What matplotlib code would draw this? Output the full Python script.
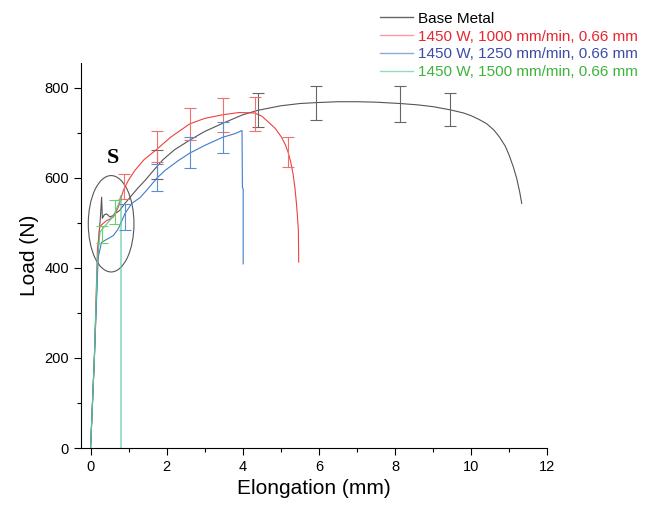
import matplotlib
matplotlib.use('Agg')
import matplotlib.pyplot as plt
from matplotlib.patches import Ellipse
from matplotlib.lines import Line2D
from matplotlib.ticker import MultipleLocator

plt.rcParams['font.family'] = ['Liberation Sans', 'DejaVu Sans']

# Base metal curve
base_x = [0, 0.1, 0.18, 0.22, 0.26, 0.29, 0.31, 0.36, 0.42, 0.51, 0.58, 0.64, 0.77, 0.9,
          1.08, 1.25, 1.43, 1.65, 1.9, 2.2, 2.61, 3.0, 3.47, 4.0, 4.4, 5.0, 5.5, 5.92,
          6.5, 7.0, 7.5, 8.14, 8.6, 9.0, 9.45, 9.8, 10.0, 10.2, 10.41, 10.6, 10.75, 10.9,
          11.0, 11.11, 11.2, 11.28, 11.33]
base_y = [0, 200, 400, 470, 515, 557, 510, 518, 520, 513, 516, 520, 528, 543,
          561, 578, 594, 616, 640, 662, 684, 703, 721, 740, 750, 760, 765, 767,
          769, 769, 768, 765, 762, 758, 751, 744, 738, 730, 720, 706, 690, 670,
          650, 624, 598, 567, 543]

# 1450 W, 1000 mm/min
red_x = [0, 0.1, 0.18, 0.24, 0.32, 0.42, 0.5, 0.6, 0.73, 0.86, 0.99, 1.16, 1.4, 1.75,
         2.1, 2.61, 3.0, 3.47, 3.9, 4.31, 4.5, 4.67, 4.85, 5.02, 5.12, 5.19, 5.26,
         5.32, 5.37, 5.41, 5.44, 5.46, 5.47]
red_y = [0, 200, 440, 491, 498, 505, 508, 513, 535, 572, 594, 616, 640, 664,
         690, 720, 732, 740, 745, 744, 737, 724, 710, 690, 673, 657, 635,
         609, 578, 543, 510, 483, 413]

# 1450 W, 1250 mm/min
blue_x = [0, 0.1, 0.2, 0.29, 0.46, 0.6, 0.73, 0.9, 1.08, 1.3, 1.5, 1.75, 1.95, 2.3,
          2.61, 3.0, 3.47, 3.79, 3.98, 3.99, 4.01, 4.01]
blue_y = [0, 200, 424, 457, 465, 472, 487, 520, 543, 556, 575, 600, 616, 638,
          655, 672, 690, 698, 705, 579, 575, 409]

# 1450 W, 1500 mm/min
green_x = [0, 0.1, 0.18, 0.25, 0.4, 0.55, 0.65, 0.75, 0.79, 0.8, 0.8]
green_y = [0, 200, 420, 480, 495, 510, 525, 545, 560, 560, 0]

# error bars (x, centre, half width)
base_err_x = [1.75, 4.4, 5.92, 8.14, 9.45]
base_err_y = [630, 750, 767, 765, 751]
base_err = [32, 38, 38, 40, 37]

red_err_x = [0.875, 1.75, 2.61, 3.47, 4.33, 5.19]
red_err_y = [580, 669, 720, 740, 742, 658]
red_err = [28, 34, 35, 38, 38, 33]

blue_err_x = [0.9, 1.75, 2.61, 3.47]
blue_err_y = [514, 601, 656, 690]
blue_err = [29, 30, 34, 35]

green_err_x = [0.29, 0.64]
green_err_y = [475, 524]
green_err = [19, 26]

labels = ['Base Metal', '1450 W, 1000 mm/min, 0.66 mm',
          '1450 W, 1250 mm/min, 0.66 mm', '1450 W, 1500 mm/min, 0.66 mm']

fig = plt.figure(figsize=(6.48, 5.08), dpi=100)
ax = fig.add_axes([0.1245, 0.118, 0.72, 0.758])

ax.plot(base_x, base_y, color='#555555', lw=0.8)
ax.plot(red_x, red_y, color='#f04040', lw=0.8)
ax.plot(blue_x, blue_y, color='#3f7ccc', lw=0.8)
ax.plot(green_x, green_y, color='#55c795', lw=0.8)

ax.errorbar(base_err_x, base_err_y, yerr=base_err, fmt='none', ecolor='#666666',
            elinewidth=0.8, capsize=4, capthick=0.8)
ax.errorbar(red_err_x, red_err_y, yerr=red_err, fmt='none', ecolor='#f07070',
            elinewidth=0.8, capsize=4, capthick=0.8)
ax.errorbar(blue_err_x, blue_err_y, yerr=blue_err, fmt='none', ecolor='#5a8ed0',
            elinewidth=0.8, capsize=4, capthick=0.8)
ax.errorbar(green_err_x, green_err_y, yerr=green_err, fmt='none', ecolor='#6ad06a',
            elinewidth=0.8, capsize=4, capthick=0.8)

# "S" marked region
ax.add_patch(Ellipse((0.54, 498), 1.2, 214, fill=False, edgecolor='#555555', lw=0.8))
ax.text(0.6, 643, 'S', fontsize=16, fontweight='bold', family='Liberation Serif',
        ha='center', va='center')

ax.set_xlim(-0.26, 12)
ax.set_ylim(0, 855)
ax.xaxis.set_major_locator(MultipleLocator(2))
ax.xaxis.set_minor_locator(MultipleLocator(1))
ax.yaxis.set_major_locator(MultipleLocator(200))
ax.yaxis.set_minor_locator(MultipleLocator(100))
ax.tick_params(which='major', length=5, width=0.8, labelsize=10.5)
ax.tick_params(which='minor', length=3, width=0.8)
ax.spines['top'].set_visible(False)
ax.spines['right'].set_visible(False)
ax.set_xlabel('Elongation (mm)', fontsize=15)
ax.set_ylabel('Load (N)', fontsize=15)

handles = [Line2D([], [], color='#666666', lw=1),
           Line2D([], [], color='#ff9a9a', lw=1),
           Line2D([], [], color='#8eaadc', lw=1),
           Line2D([], [], color='#93dcb8', lw=1)]
leg = fig.legend(handles, labels, loc='upper left', bbox_to_anchor=(0.565, 1.004),
                 frameon=False, fontsize=11, handlelength=2.15, handletextpad=0.33,
                 labelspacing=0.25)
for txt, c in zip(leg.get_texts(), ['black', '#e8262e', '#3c4ca6', '#3cb43c']):
    txt.set_color(c)

fig.savefig('out.png', dpi=100)
